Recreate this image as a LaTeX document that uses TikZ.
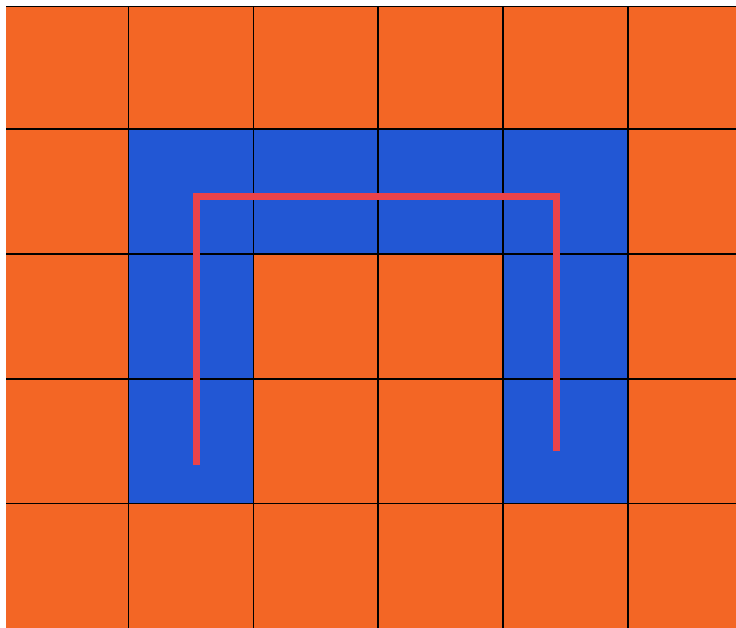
\documentclass[tikz,border=0pt]{standalone}
\usepackage{tikz}

\definecolor{floorcol}{RGB}{243,102,37}
\definecolor{wallcol}{RGB}{34,87,212}
\definecolor{routecol}{RGB}{234,67,73}

\tikzset{
    cell/.style={fill=wallcol, draw=none},
    gridline/.style={black, line width=0.35pt},
    route/.style={routecol, line width=0.056cm, line join=miter}
}

\begin{document}
\begin{tikzpicture}[x=1cm, y=-1cm]
                \useasboundingbox (-0.029,-0.033) rectangle (5.865,4.995);

                % Background
                \fill[floorcol] (0.02,0.02) rectangle (5.865,5);

                % Cells
                \foreach \c/\r in {1/1, 2/1, 3/1, 4/1, 1/2, 4/2, 1/3, 4/3}
                    \fill[cell] (\c,\r) rectangle ++(1,1);

                % Grid
                \foreach \c in {1,...,5}
                    \draw[gridline] (\c,0.02) -- (\c,5);
                \draw[gridline] (0.02,0.02) -- (5.865,0.02);
                \foreach \r in {1,...,4}
                    \draw[gridline] (0.02,\r) -- (5.865,\r);

                % Route
                \coordinate (start) at (1.548,3.69);
                \coordinate (turn1) at (1.548,1.544);
                \coordinate (turn2) at (4.431,1.544);
                \coordinate (stop) at (4.431,3.578);
                \draw[route] (start) -- (turn1) -- (turn2) -- (stop);
            \end{tikzpicture}
\end{document}
